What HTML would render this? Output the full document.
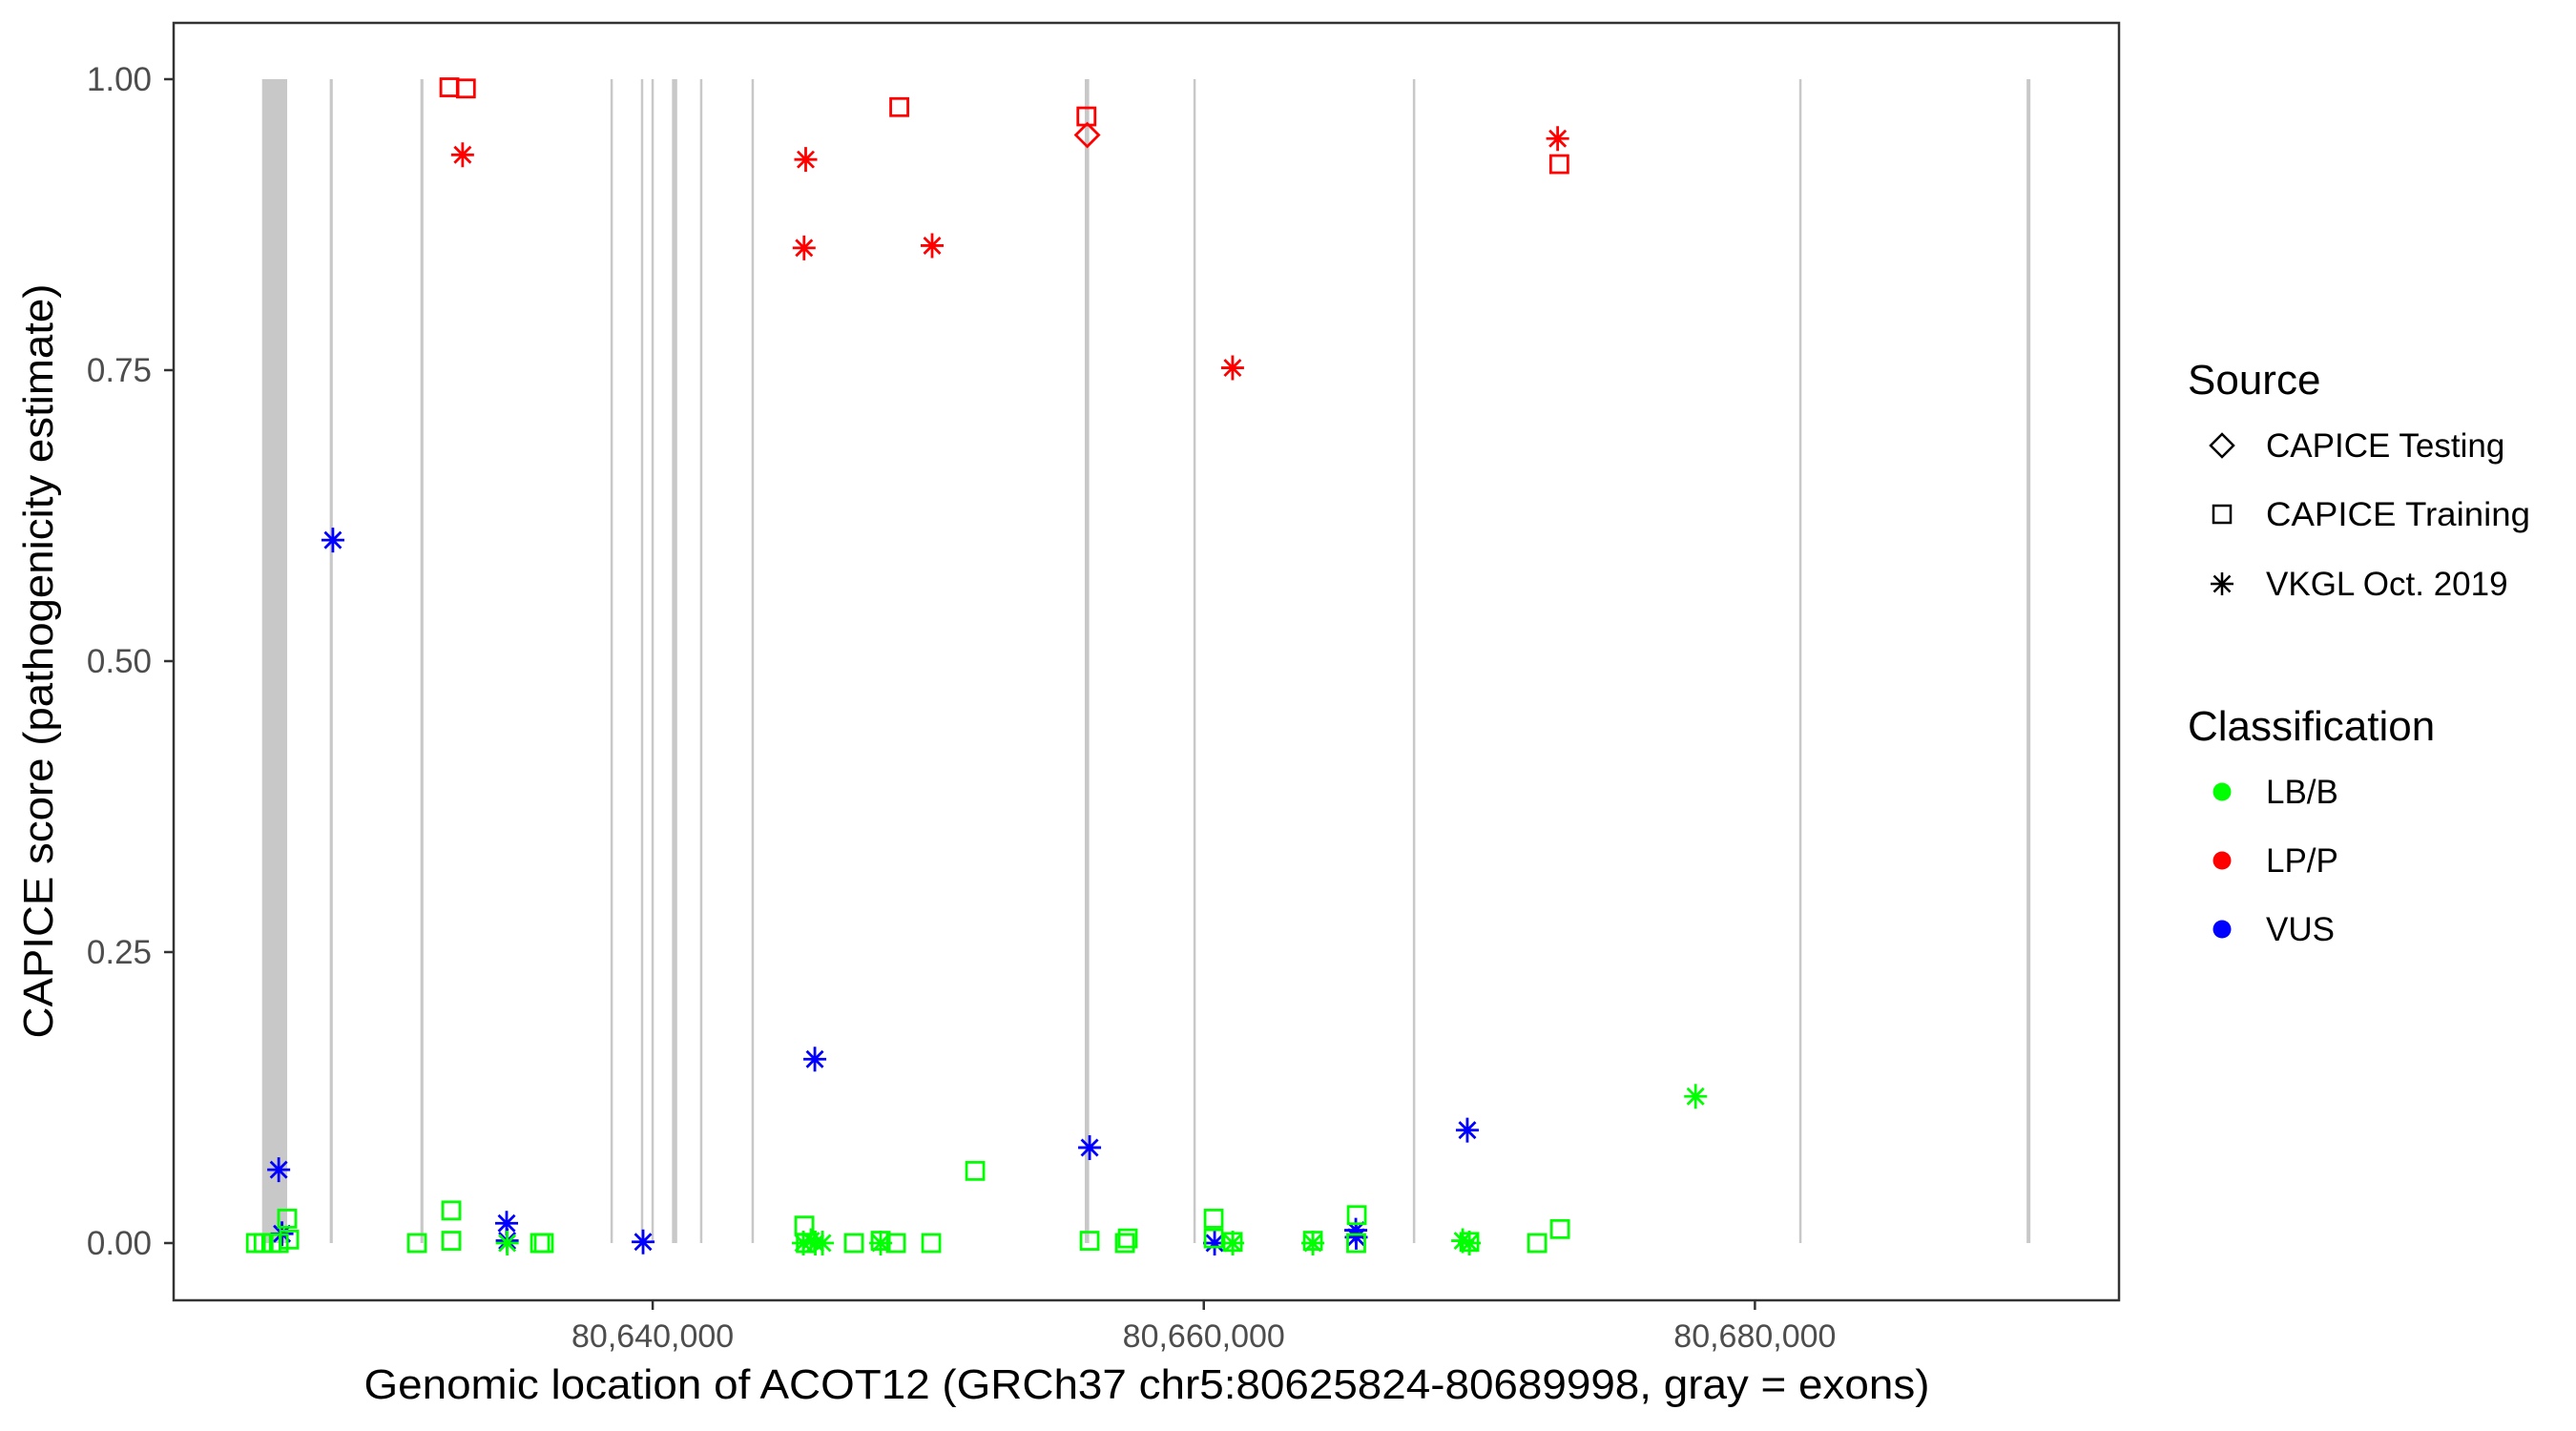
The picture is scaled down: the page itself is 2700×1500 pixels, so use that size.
<!DOCTYPE html>
<html><head><meta charset="utf-8">
<style>
html,body{margin:0;padding:0;background:#fff;}
svg{display:block;font-family:"Liberation Sans",Arial,sans-serif;}
</style></head>
<body>
<svg id="chart" width="2700" height="1500" viewBox="0 0 2700 1500" xmlns="http://www.w3.org/2000/svg">
  <rect x="0" y="0" width="2700" height="1500" fill="#fff"/>
  <g id="exons"></g>
  <g id="points"></g>
  <rect x="182" y="24" width="2039" height="1339" fill="none" stroke="#333" stroke-width="2.5"/>
  <g id="axes"></g>
  <text x="1202" y="1466" text-anchor="middle" font-size="44" fill="#000" textLength="1641" lengthAdjust="spacingAndGlyphs">Genomic location of ACOT12 (GRCh37 chr5:80625824-80689998, gray = exons)</text>
  <text transform="translate(55,693) rotate(-90)" text-anchor="middle" font-size="44" fill="#000" textLength="791" lengthAdjust="spacingAndGlyphs">CAPICE score (pathogenicity estimate)</text>
  <g>
    <text x="2293" y="413" font-size="44" fill="#000">Source</text>
    <g>
      <path d="M2329 455 L2341 467 L2329 479 L2317 467 Z" fill="none" stroke="#000" stroke-width="2.5"/>
      <text x="2375" y="479" font-size="35" fill="#000">CAPICE Testing</text>
    </g>
    <g>
      <rect x="2320" y="530" width="18" height="18" fill="none" stroke="#000" stroke-width="2.5"/>
      <text x="2375" y="551" font-size="35" fill="#000" textLength="277" lengthAdjust="spacingAndGlyphs">CAPICE Training</text>
    </g>
    <g>
      <path d="M2317 612 H2341 M2329 600 V624 M2320.5 603.5 L2337.5 620.5 M2337.5 603.5 L2320.5 620.5" stroke="#000" stroke-width="2.5"/>
      <text x="2375" y="624" font-size="35" fill="#000">VKGL Oct. 2019</text>
    </g>
  </g>
  <g>
    <text x="2293" y="776" font-size="44" fill="#000">Classification</text>
    <g>
      <circle cx="2329" cy="830" r="9.5" fill="#00ff00"/>
      <text x="2375" y="842" font-size="35" fill="#000">LB/B</text>
    </g>
    <g>
      <circle cx="2329" cy="902" r="9.5" fill="#ff0000"/>
      <text x="2375" y="914" font-size="35" fill="#000">LP/P</text>
    </g>
    <g>
      <circle cx="2329" cy="974" r="9.5" fill="#0000ff"/>
      <text x="2375" y="986" font-size="35" fill="#000">VUS</text>
    </g>
  </g>
</svg>
<script>
// ---- data ----
const xTicks = [80640000, 80660000, 80680000];
const xTickLabels = ["80,640,000", "80,660,000", "80,680,000"];
const yTicks = [0, 0.25, 0.5, 0.75, 1.0];
const yTickLabels = ["0.00", "0.25", "0.50", "0.75", "1.00"];
const exonStarts = [80625824, 80628280, 80631570, 80638470, 80639580, 80639965, 80640700, 80641720, 80643590, 80655680, 80659625, 80667590, 80681610, 80689860];
const exonEnds   = [80626735, 80628390, 80631680, 80638550, 80639650, 80640030, 80640890, 80641800, 80643670, 80655840, 80659705, 80667670, 80681690, 80689998];
const pointPos = [
 80632624,80633220,80633101,80645553,80645494,80648949,80650141,80655741,80655770,80661044,80672841,80672901,
 80628394,80626428,80626547,80634699,80634720,80639651,80645884,80655856,80660392,80665516,80665530,80669563,
 80677846,
 80625600,80625880,80626160,80626430,80626735,80626805,80631445,80632691,80632691,80634720,80635911,80636050,
 80645503,80645468,80645560,80645745,80645900,80646161,80647303,80648273,80648273,80648827,80650108,80651701,
 80655856,80657137,80657241,80660357,80660357,80661050,80661050,80663958,80663958,80665551,80665530,
 80669395,80669637,80669637,80672096,80672927
];
const pointScore = [
 0.993,0.992,0.935,0.931,0.855,0.976,0.857,0.968,0.952,0.752,0.949,0.927,
 0.604,0.063,0.008,0.017,0.002,0.001,0.158,0.082,0.000,0.011,0.005,0.097,
 0.126,
 0.000,0.000,0.000,0.000,0.021,0.003,0.000,0.028,0.002,0.000,0.000,0.000,
 0.015,0.000,0.000,0.002,0.000,0.000,0.000,0.000,0.002,0.000,0.000,0.062,
 0.002,0.000,0.004,0.021,0.004,0.000,0.001,0.000,0.002,0.024,0.000,
 0.002,0.000,0.001,0.000,0.012
];
const pointClass = [
 "LP/P","LP/P","LP/P","LP/P","LP/P","LP/P","LP/P","LP/P","LP/P","LP/P","LP/P","LP/P",
 "VUS","VUS","VUS","VUS","VUS","VUS","VUS","VUS","VUS","VUS","VUS","VUS",
 "LB/B",
 "LB/B","LB/B","LB/B","LB/B","LB/B","LB/B","LB/B","LB/B","LB/B","LB/B","LB/B","LB/B",
 "LB/B","LB/B","LB/B","LB/B","LB/B","LB/B","LB/B","LB/B","LB/B","LB/B","LB/B","LB/B",
 "LB/B","LB/B","LB/B","LB/B","LB/B","LB/B","LB/B","LB/B","LB/B","LB/B","LB/B",
 "LB/B","LB/B","LB/B","LB/B","LB/B"
];
const pointSource = [
 "Training","Training","VKGL","VKGL","VKGL","Training","VKGL","Training","Testing","VKGL","VKGL","Training",
 "VKGL","VKGL","VKGL","VKGL","VKGL","VKGL","VKGL","VKGL","VKGL","VKGL","VKGL","VKGL",
 "VKGL",
 "Training","Training","Training","Training","Training","Training","Training","Training","Training","VKGL","Training","Training",
 "Training","VKGL","Training","VKGL","VKGL","VKGL","Training","VKGL","Training","Training","Training","Training",
 "Training","Training","Training","Training","Training","VKGL","Training","VKGL","Training","Training","Training",
 "VKGL","VKGL","Training","Training","Training"
];
// ---- scales ----
const NS = "http://www.w3.org/2000/svg";
const X0 = 80622615, XK = 0.028882, PX0 = 182;
function xs(v){ return PX0 + (v - X0) * XK; }
function ys(v){ return 1303 - v * 1220; }
const colors = {"LB/B":"#00ff00","LP/P":"#ff0000","VUS":"#0000ff"};
function mk(tag, attrs, parent){ const e=document.createElementNS(NS,tag); for(const k in attrs) e.setAttribute(k,attrs[k]); parent.appendChild(e); return e; }

const gEx = document.getElementById('exons');
for(let i=0;i<exonStarts.length;i++){
  const x1=xs(exonStarts[i]), x2=xs(exonEnds[i]);
  const w=Math.max(2.5,x2-x1);
  const r=mk('rect',{x:(x1+x2)/2-w/2,y:ys(1),width:w,height:ys(0)-ys(1),fill:'#c8c8c8'},gEx);
  
  
}

const gAx = document.getElementById('axes');
for(let i=0;i<xTicks.length;i++){
  const x=xs(xTicks[i]);
  const t=mk('line',{x1:x,x2:x,y1:1363,y2:1373,stroke:'#333','stroke-width':2.5},gAx);
  
  
  const l=mk('text',{x:x,y:1412,'text-anchor':'middle','font-size':34,fill:'#4d4d4d'},gAx);
  l.textContent=xTickLabels[i];
  
  
}
for(let i=0;i<yTicks.length;i++){
  const y=ys(yTicks[i]);
  const t=mk('line',{x1:172,x2:182,y1:y,y2:y,stroke:'#333','stroke-width':2.5},gAx);
  
  
  const l=mk('text',{x:159,y:y+12,'text-anchor':'end','font-size':35,fill:'#4d4d4d'},gAx);
  l.textContent=yTickLabels[i];
  
  
}

const gP = document.getElementById('points');
for(let i=0;i<pointPos.length;i++){
  const x=xs(pointPos[i]), y=ys(pointScore[i]), c=colors[pointClass[i]];
  let el;
  if(pointSource[i]==="Training"){
    el=mk('rect',{x:x-9,y:y-9,width:18,height:18,fill:'none',stroke:c,'stroke-width':2.8},gP);
  } else if(pointSource[i]==="Testing"){
    el=mk('path',{d:`M${x} ${y-12} L${x+12} ${y} L${x} ${y+12} L${x-12} ${y} Z`,fill:'none',stroke:c,'stroke-width':2.8},gP);
  } else {
    el=mk('path',{d:`M${x-12} ${y} H${x+12} M${x} ${y-13} V${y+13} M${x-8.5} ${y-8.5} L${x+8.5} ${y+8.5} M${x+8.5} ${y-8.5} L${x-8.5} ${y+8.5}`,fill:'none',stroke:c,'stroke-width':2.8},gP);
  }
  
  
}
</script>
</body></html>
